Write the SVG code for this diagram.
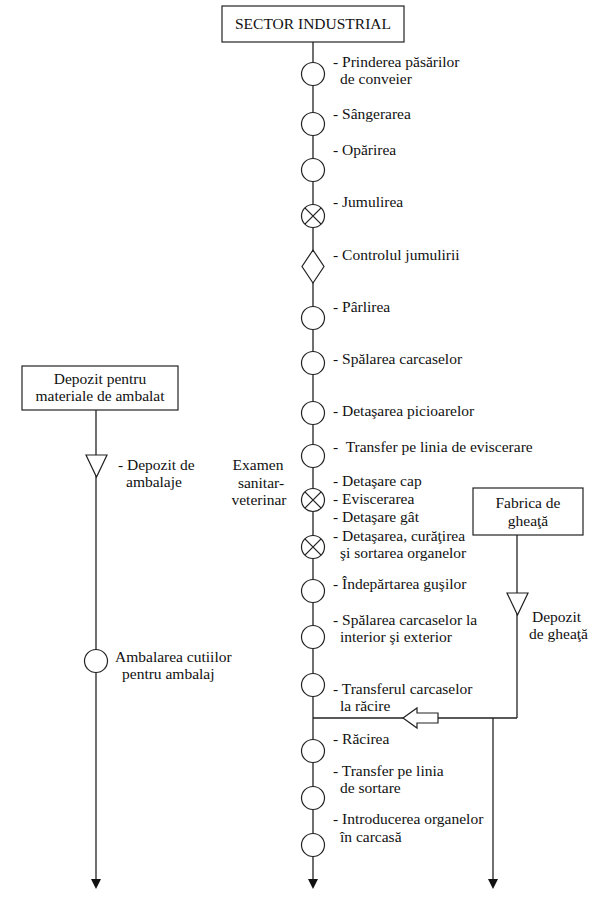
<svg xmlns="http://www.w3.org/2000/svg" width="604" height="913" viewBox="0 0 604 913">
<defs>
<style>
text{font-family:"Liberation Serif","Times New Roman",serif;font-size:15.5px;fill:#111}
.c{text-anchor:middle}
.ln{stroke:#222;stroke-width:1.3;fill:none}
.nd{stroke:#222;stroke-width:1.2;fill:#fff}
</style>
</defs>
<rect width="604" height="913" fill="#fff"/>
<g id="connectors">
<line class="ln" x1="313" y1="42" x2="313" y2="880"/>
<path d="M308,879 L318,879 L313,889 Z" fill="#111"/>
<line class="ln" x1="96" y1="410" x2="96" y2="880"/>
<path d="M91,879 L101,879 L96,889 Z" fill="#111"/>
<line class="ln" x1="517" y1="535" x2="517" y2="718"/>
<line class="ln" x1="313" y1="718" x2="517" y2="718"/>
<line class="ln" x1="493" y1="718" x2="493" y2="880"/>
<path d="M488,879 L498,879 L493,889 Z" fill="#111"/>
<path class="nd" d="M403,718 L417,708 L417,713 L438,713 L438,723 L417,723 L417,728 Z"/>
</g>
<g id="sector-industrial">
<rect class="nd" x="222" y="6" width="182" height="36"/>
<text class="c" x="313" y="29" style="font-size:15.5px">SECTOR INDUSTRIAL</text>
</g>
<g id="n1"><circle class="nd" cx="313" cy="74" r="11.5"/><text x="333" y="67">- Prinderea păsărilor</text><text x="340" y="84">de conveier</text></g>
<g id="n2"><circle class="nd" cx="313" cy="124" r="11.5"/><text x="333" y="119">- Sângerarea</text></g>
<g id="n3"><circle class="nd" cx="313" cy="170" r="11.5"/><text x="333" y="155">- Opărirea</text></g>
<g id="n4"><circle class="nd" cx="313" cy="216" r="11.5"/><path class="ln" d="M304.9,207.9 L321.1,224.1 M321.1,207.9 L304.9,224.1"/><text x="333" y="207">- Jumulirea</text></g>
<g id="n5"><path class="nd" d="M313,250 L324,266.5 L313,283 L302,266.5 Z"/><text x="333" y="260">- Controlul jumulirii</text></g>
<g id="n6"><circle class="nd" cx="313" cy="318" r="11.5"/><text x="333" y="312">- Pârlirea</text></g>
<g id="n7"><circle class="nd" cx="313" cy="363" r="11.5"/><text x="333" y="364">- Spălarea carcaselor</text></g>
<g id="n8"><circle class="nd" cx="313" cy="413" r="11.5"/><text x="333" y="416">- Detaşarea picioarelor</text></g>
<g id="n9"><circle class="nd" cx="313" cy="456" r="11.5"/><text x="333" y="452" xml:space="preserve">-  Transfer pe linia de eviscerare</text></g>
<g id="n10"><circle class="nd" cx="313" cy="500" r="11.5"/><path class="ln" d="M304.9,491.9 L321.1,508.1 M321.1,491.9 L304.9,508.1"/><text x="333" y="486">- Detaşare cap</text><text x="333" y="504">- Eviscerarea</text><text x="333" y="522">- Detaşare gât</text></g>
<g id="n11"><circle class="nd" cx="313" cy="547" r="11.5"/><path class="ln" d="M304.9,538.9 L321.1,555.1 M321.1,538.9 L304.9,555.1"/><text x="333" y="541">- Detaşarea, curăţirea</text><text x="340" y="558">şi sortarea organelor</text></g>
<g id="n12"><circle class="nd" cx="313" cy="591" r="11.5"/><text x="333" y="589">- Îndepărtarea guşilor</text></g>
<g id="n13"><circle class="nd" cx="313" cy="637" r="11.5"/><text x="333" y="625">- Spălarea carcaselor la</text><text x="340" y="642">interior şi exterior</text></g>
<g id="n14"><circle class="nd" cx="313" cy="685" r="11.5"/><text x="333" y="694">- Transferul carcaselor</text><text x="340" y="711">la răcire</text></g>
<g id="n15"><circle class="nd" cx="313" cy="751" r="11.5"/><text x="333" y="744">- Răcirea</text></g>
<g id="n16"><circle class="nd" cx="313" cy="798" r="11.5"/><text x="333" y="776">- Transfer pe linia</text><text x="340" y="793">de sortare</text></g>
<g id="n17"><circle class="nd" cx="313" cy="845" r="11.5"/><text x="333" y="824">- Introducerea organelor</text><text x="340" y="842">în carcasă</text></g>
<g id="examen"><text class="c" x="258" y="470">Examen</text><text class="c" x="261" y="488">sanitar-</text><text class="c" x="259" y="505">veterinar</text></g>
<g id="depozit-materiale">
<rect class="nd" x="22" y="366" width="156" height="44"/>
<text class="c" x="100" y="384">Depozit pentru</text>
<text class="c" x="100" y="401">materiale de ambalat</text>
</g>
<g id="depozit-ambalaje"><path class="nd" d="M86,455 L107,455 L96.5,477 Z"/><text x="118" y="470">- Depozit de</text><text x="126" y="487">ambalaje</text></g>
<g id="ambalarea"><circle class="nd" cx="96" cy="661" r="11.5"/><text x="115" y="662">Ambalarea cutiilor</text><text x="122" y="679">pentru ambalaj</text></g>
<g id="fabrica-gheata">
<rect class="nd" x="473" y="488" width="110" height="47"/>
<text class="c" x="528" y="508">Fabrica de</text>
<text class="c" x="528" y="526">gheaţă</text>
</g>
<g id="depozit-gheata"><path class="nd" d="M507,593 L528,593 L517.5,615 Z"/><text x="532" y="622">Depozit</text><text x="529" y="639">de gheaţă</text></g>
</svg>
